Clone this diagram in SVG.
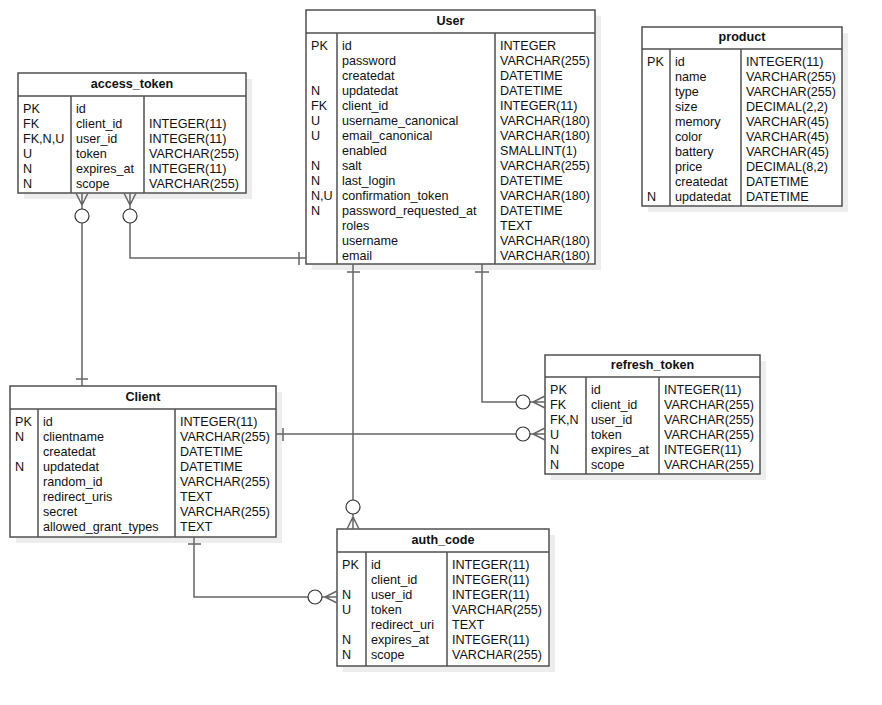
<svg xmlns="http://www.w3.org/2000/svg" width="882" height="705" viewBox="0 0 882 705">
  <style>
    text { font-family: "Liberation Sans", Arial, sans-serif; font-size: 12.6px; fill: #111; }
    .title { font-weight: bold; text-anchor: middle; }
    .shadow { fill: #ededed; stroke: none; }
    .box { fill: #fff; stroke: #505050; stroke-width: 1.5; }
    .div { stroke: #505050; stroke-width: 1.5; fill: none; }
    .conn { stroke: #666; stroke-width: 1.5; fill: none; }
    .ring { stroke: #333; stroke-width: 1.2; fill: #fff; }
  </style>
  <rect width="882" height="705" fill="#fff"/>

  <!-- access_token -->
  <g id="access_token">
    <rect class="shadow" x="24" y="79" width="228" height="120"/>
    <rect class="box" x="18" y="73" width="228" height="120"/>
    <path class="div" d="M18 96 H246 M71 96 V193 M144 96 V193"/>
    <text class="title" x="132" y="88">access_token</text>
    <text x="23" y="113">PK</text><text x="76" y="113">id</text>
    <text x="23" y="128">FK</text><text x="76" y="128">client_id</text><text x="149" y="128">INTEGER(11)</text>
    <text x="23" y="143">FK,N,U</text><text x="76" y="143">user_id</text><text x="149" y="143">INTEGER(11)</text>
    <text x="23" y="158">U</text><text x="76" y="158">token</text><text x="149" y="158">VARCHAR(255)</text>
    <text x="23" y="173">N</text><text x="76" y="173">expires_at</text><text x="149" y="173">INTEGER(11)</text>
    <text x="23" y="188">N</text><text x="76" y="188">scope</text><text x="149" y="188">VARCHAR(255)</text>
  </g>

  <!-- User -->
  <g id="User">
    <rect class="shadow" x="312" y="16" width="289" height="254"/>
    <rect class="box" x="306" y="10" width="289" height="254"/>
    <path class="div" d="M306 33 H595 M337 33 V264 M495 33 V264"/>
    <text class="title" x="450.5" y="25">User</text>
    <text x="311" y="50">PK</text><text x="342" y="50">id</text><text x="500" y="50">INTEGER</text>
    <text x="342" y="65">password</text><text x="500" y="65">VARCHAR(255)</text>
    <text x="342" y="80">createdat</text><text x="500" y="80">DATETIME</text>
    <text x="311" y="95">N</text><text x="342" y="95">updatedat</text><text x="500" y="95">DATETIME</text>
    <text x="311" y="110">FK</text><text x="342" y="110">client_id</text><text x="500" y="110">INTEGER(11)</text>
    <text x="311" y="125">U</text><text x="342" y="125">username_canonical</text><text x="500" y="125">VARCHAR(180)</text>
    <text x="311" y="140">U</text><text x="342" y="140">email_canonical</text><text x="500" y="140">VARCHAR(180)</text>
    <text x="342" y="155">enabled</text><text x="500" y="155">SMALLINT(1)</text>
    <text x="311" y="170">N</text><text x="342" y="170">salt</text><text x="500" y="170">VARCHAR(255)</text>
    <text x="311" y="185">N</text><text x="342" y="185">last_login</text><text x="500" y="185">DATETIME</text>
    <text x="311" y="200">N,U</text><text x="342" y="200">confirmation_token</text><text x="500" y="200">VARCHAR(180)</text>
    <text x="311" y="215">N</text><text x="342" y="215">password_requested_at</text><text x="500" y="215">DATETIME</text>
    <text x="342" y="230">roles</text><text x="500" y="230">TEXT</text>
    <text x="342" y="245">username</text><text x="500" y="245">VARCHAR(180)</text>
    <text x="342" y="260">email</text><text x="500" y="260">VARCHAR(180)</text>
  </g>

  <!-- product -->
  <g id="product">
    <rect class="shadow" x="648" y="33" width="200" height="179"/>
    <rect class="box" x="642" y="27" width="200" height="179"/>
    <path class="div" d="M642 49 H842 M670 49 V206 M741 49 V206"/>
    <text class="title" x="742" y="41">product</text>
    <text x="647" y="66">PK</text><text x="675" y="66">id</text><text x="746" y="66">INTEGER(11)</text>
    <text x="675" y="81">name</text><text x="746" y="81">VARCHAR(255)</text>
    <text x="675" y="96">type</text><text x="746" y="96">VARCHAR(255)</text>
    <text x="675" y="111">size</text><text x="746" y="111">DECIMAL(2,2)</text>
    <text x="675" y="126">memory</text><text x="746" y="126">VARCHAR(45)</text>
    <text x="675" y="141">color</text><text x="746" y="141">VARCHAR(45)</text>
    <text x="675" y="156">battery</text><text x="746" y="156">VARCHAR(45)</text>
    <text x="675" y="171">price</text><text x="746" y="171">DECIMAL(8,2)</text>
    <text x="675" y="186">createdat</text><text x="746" y="186">DATETIME</text>
    <text x="647" y="201">N</text><text x="675" y="201">updatedat</text><text x="746" y="201">DATETIME</text>
  </g>

  <!-- Client -->
  <g id="Client">
    <rect class="shadow" x="16" y="392" width="266" height="151"/>
    <rect class="box" x="10" y="386" width="266" height="151"/>
    <path class="div" d="M10 409 H276 M38 409 V537 M175 409 V537"/>
    <text class="title" x="143" y="401">Client</text>
    <text x="15" y="426">PK</text><text x="43" y="426">id</text><text x="180" y="426">INTEGER(11)</text>
    <text x="15" y="441">N</text><text x="43" y="441">clientname</text><text x="180" y="441">VARCHAR(255)</text>
    <text x="43" y="456">createdat</text><text x="180" y="456">DATETIME</text>
    <text x="15" y="471">N</text><text x="43" y="471">updatedat</text><text x="180" y="471">DATETIME</text>
    <text x="43" y="486">random_id</text><text x="180" y="486">VARCHAR(255)</text>
    <text x="43" y="501">redirect_uris</text><text x="180" y="501">TEXT</text>
    <text x="43" y="516">secret</text><text x="180" y="516">VARCHAR(255)</text>
    <text x="43" y="531">allowed_grant_types</text><text x="180" y="531">TEXT</text>
  </g>

  <!-- refresh_token -->
  <g id="refresh_token">
    <rect class="shadow" x="551" y="361" width="215" height="119"/>
    <rect class="box" x="545" y="355" width="215" height="119"/>
    <path class="div" d="M545 377 H760 M586 377 V474 M659 377 V474"/>
    <text class="title" x="652.5" y="369">refresh_token</text>
    <text x="550" y="394">PK</text><text x="591" y="394">id</text><text x="664" y="394">INTEGER(11)</text>
    <text x="550" y="409">FK</text><text x="591" y="409">client_id</text><text x="664" y="409">VARCHAR(255)</text>
    <text x="550" y="424">FK,N</text><text x="591" y="424">user_id</text><text x="664" y="424">VARCHAR(255)</text>
    <text x="550" y="439">U</text><text x="591" y="439">token</text><text x="664" y="439">VARCHAR(255)</text>
    <text x="550" y="454">N</text><text x="591" y="454">expires_at</text><text x="664" y="454">INTEGER(11)</text>
    <text x="550" y="469">N</text><text x="591" y="469">scope</text><text x="664" y="469">VARCHAR(255)</text>
  </g>

  <!-- auth_code -->
  <g id="auth_code">
    <rect class="shadow" x="343" y="535" width="212" height="137"/>
    <rect class="box" x="337" y="529" width="212" height="137"/>
    <path class="div" d="M337 552 H549 M366 552 V666 M447 552 V666"/>
    <text class="title" x="443" y="544">auth_code</text>
    <text x="342" y="569">PK</text><text x="371" y="569">id</text><text x="452" y="569">INTEGER(11)</text>
    <text x="371" y="584">client_id</text><text x="452" y="584">INTEGER(11)</text>
    <text x="342" y="599">N</text><text x="371" y="599">user_id</text><text x="452" y="599">INTEGER(11)</text>
    <text x="342" y="614">U</text><text x="371" y="614">token</text><text x="452" y="614">VARCHAR(255)</text>
    <text x="371" y="629">redirect_uri</text><text x="452" y="629">TEXT</text>
    <text x="342" y="644">N</text><text x="371" y="644">expires_at</text><text x="452" y="644">INTEGER(11)</text>
    <text x="342" y="659">N</text><text x="371" y="659">scope</text><text x="452" y="659">VARCHAR(255)</text>
  </g>

  <!-- relationships: bar = one, ring + crow's foot = zero or many -->
  <g id="connectors">
    <!-- Client 1 : access_token many -->
    <path class="conn" d="M82 193 V386 M76 379 H88 M76 193 L82 205 L88 193"/>
    <circle class="ring" cx="82" cy="216" r="7"/>
    <!-- User 1 : access_token many -->
    <path class="conn" d="M130 193 V258 H306 M299 252 V265 M124 193 L130 205 L136 193"/>
    <circle class="ring" cx="130" cy="216" r="7"/>
    <!-- User 1 : auth_code many -->
    <path class="conn" d="M353 264 V529 M347 272 H360 M347 529 L353 517 L359 529"/>
    <circle class="ring" cx="353" cy="507" r="7"/>
    <!-- User 1 : refresh_token many -->
    <path class="conn" d="M482 264 V402 H545 M475 272 H489 M545 396 L533 402 L545 408"/>
    <circle class="ring" cx="523" cy="402" r="7"/>
    <!-- Client 1 : refresh_token many -->
    <path class="conn" d="M276 434 H545 M283 428 V441 M545 428 L533 434 L545 440"/>
    <circle class="ring" cx="523" cy="434" r="7"/>
    <!-- Client 1 : auth_code many -->
    <path class="conn" d="M194 537 V597 H337 M188 544 H201 M337 591 L325 597 L337 603"/>
    <circle class="ring" cx="315" cy="597" r="7"/>
  </g>
</svg>
